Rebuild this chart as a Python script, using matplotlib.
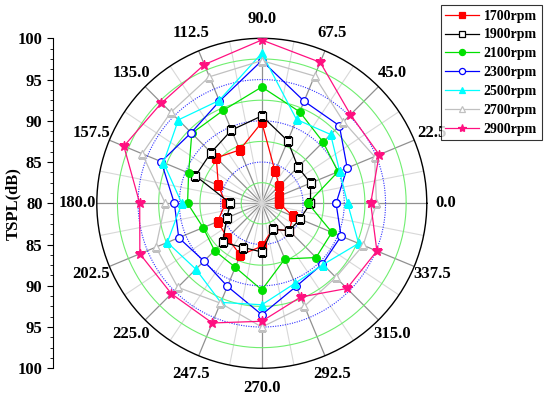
import numpy as np
import matplotlib
matplotlib.use('Agg')
import matplotlib.pyplot as plt
from matplotlib.ticker import MultipleLocator, FixedLocator

plt.rcParams['font.family'] = ['Liberation Serif', 'DejaVu Serif']
plt.rcParams['font.weight'] = 'bold'

# 角度（度）
angles = [0, 22.5, 45, 67.5, 90, 112.5, 135, 157.5,
          180, 202.5, 225, 247.5, 270, 292.5, 315, 337.5]

# 各转速下的 TSPL (dB)
tspl_1700 = [82.1, 82.3, 83.0, 84.2, 89.8, 87.0, 87.8, 85.7,
             84.4, 85.8, 85.9, 86.8, 85.2, 83.4, 84.7, 84.1]
tspl_1900 = [85.9, 86.4, 86.2, 88.2, 90.6, 89.6, 88.7, 88.7,
             83.8, 84.6, 86.7, 85.8, 85.9, 83.4, 84.7, 85.0]
tspl_2100 = [85.6, 90.0, 90.5, 92.0, 94.1, 92.2, 92.0, 89.6,
             89.0, 87.7, 88.1, 88.4, 90.5, 87.3, 89.3, 89.2]
tspl_2300 = [89.0, 91.2, 93.3, 93.4, 97.3, 93.4, 92.1, 93.2,
             90.6, 90.9, 89.9, 90.9, 93.5, 90.9, 90.4, 90.4]
tspl_2500 = [90.4, 90.2, 91.8, 91.0, 98.2, 93.5, 94.3, 92.9,
             89.7, 92.4, 91.3, 93.0, 92.3, 90.5, 90.5, 92.7]
tspl_2700 = [93.9, 94.8, 94.0, 96.7, 97.3, 96.6, 95.6, 95.7,
             91.7, 93.9, 94.4, 93.1, 95.0, 93.5, 92.7, 93.3]
tspl_2900 = [93.2, 95.4, 95.2, 98.5, 99.8, 98.2, 97.2, 98.1,
             94.8, 96.0, 95.5, 95.7, 94.3, 92.3, 94.6, 95.1]

labels = ['1700rpm', '1900rpm', '2100rpm', '2300rpm',
          '2500rpm', '2700rpm', '2900rpm']
series = [tspl_1700, tspl_1900, tspl_2100, tspl_2300,
          tspl_2500, tspl_2700, tspl_2900]

# 样式：颜色, 标记, 是否实心
styles = [('#ff0000', 's', True),
          ('#000000', 's', False),
          ('#00e000', 'o', True),
          ('#0000ff', 'o', False),
          ('#00ffff', '^', True),
          ('#c0c0c0', '^', False),
          ('#ff1080', '*', True)]

fig = plt.figure(figsize=(5.5, 3.95), dpi=100)

# 极坐标主图
ax = fig.add_axes([0.176, 0.0676, 0.6, 0.8354], projection='polar')
ax.set_ylim(80, 100)
ax.set_yticks([])
ax.grid(False)

th_major = np.deg2rad(angles)
ax.set_xticks(th_major)
ax.set_xticklabels(['%.1f' % a for a in angles], fontsize=12, fontweight='bold')
ax.set_xticks(np.deg2rad(np.arange(11.25, 360, 22.5)), minor=True)
ax.tick_params(axis='x', which='both', direction='in', length=5, color='k', pad=7)

# 网格线
for t in th_major:
    ax.plot([t, t], [80, 100], color='#909090', lw=0.9, zorder=1)
for t in np.deg2rad(np.arange(11.25, 360, 22.5)):
    ax.plot([t, t], [80, 100], color='#d8d8d8', lw=0.8, zorder=1)
circ = np.linspace(0, 2 * np.pi, 400)
for r in [82.5, 87.5, 92.5, 97.5]:
    ax.plot(circ, np.full_like(circ, r), color='#70ee70', lw=0.8, zorder=1)
for r in [85, 90, 95]:
    ax.plot(circ, np.full_like(circ, r), color='#3030ff', lw=0.8, ls=(0, (1, 1.2)), zorder=1)
ax.spines['polar'].set_color('k')
ax.spines['polar'].set_linewidth(1.0)

th_closed = np.append(th_major, th_major[0])
for vals, lab, (c, m, filled) in zip(series, labels, styles):
    v = np.append(vals, vals[0])
    ms = 7.5 if m == '*' else 5.5
    ax.plot(th_closed, v, color=c, lw=0.9, marker=m, markersize=ms,
            markerfacecolor=c if filled else 'white', markeredgecolor=c,
            markeredgewidth=0.9, label=lab, zorder=3)

leg = fig.legend(loc='upper right', bbox_to_anchor=(0.99, 0.995),
                 prop={'size': 10, 'weight': 'bold'}, frameon=True,
                 fancybox=False, edgecolor='k', handlelength=2.4,
                 markerscale=0.8, handletextpad=0.35, labelspacing=0.42,
                 borderpad=0.35, borderaxespad=0.2)
leg.get_frame().set_linewidth(0.8)

# 左侧 TSPL 坐标轴
axl = fig.add_axes([0.0964, 0.0676, 0.001, 0.8354])
axl.set_ylim(-20, 20)
for s in ['top', 'right', 'bottom']:
    axl.spines[s].set_visible(False)
axl.set_xticks([])
ticks = [-20, -15, -10, -5, 0, 5, 10, 15, 20]
axl.yaxis.set_major_locator(FixedLocator(ticks))
axl.set_yticklabels([str(80 + abs(t)) for t in ticks], fontsize=12, fontweight='bold')
axl.yaxis.set_minor_locator(MultipleLocator(1.25))
axl.tick_params(axis='y', which='major', length=4, direction='out')
axl.tick_params(axis='y', which='minor', length=2, direction='out')
axl.patch.set_visible(False)
fig.text(0.024, 0.485, 'TSPL(dB)', rotation=90, ha='center', va='center',
         fontsize=12, fontweight='bold')

fig.savefig('out.png', dpi=100)
